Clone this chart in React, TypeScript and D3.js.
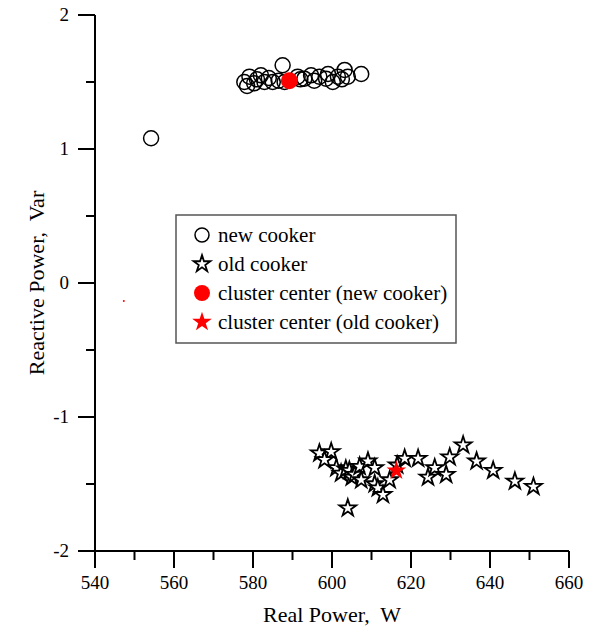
import * as d3 from "d3";

// new cooker measurements
const newX = [554.2, 577.8, 578.5, 579.1, 580.3, 581.0, 582.0, 582.9, 584.0, 585.0, 586.5, 587.5, 588.0, 591.3, 592.0, 593.0, 594.7, 595.5, 596.8, 598.5, 599.0, 600.2, 601.5, 602.5, 603.2, 604.0, 607.4];
const newY = [1.08, 1.50, 1.47, 1.54, 1.49, 1.52, 1.55, 1.50, 1.53, 1.50, 1.51, 1.625, 1.50, 1.54, 1.52, 1.525, 1.55, 1.51, 1.54, 1.525, 1.56, 1.50, 1.54, 1.52, 1.59, 1.54, 1.56];

// old cooker measurements
const oldX = [596.8, 599.8, 598.1, 601.1, 602.3, 603.5, 604.4, 605.0, 605.7, 607.0, 609.1, 610.8, 607.4, 610.8, 611.6, 612.9, 614.6, 616.5, 618.4, 621.8, 604.0, 624.3, 626.0, 628.9, 629.8, 633.2, 636.6, 640.8, 646.3, 651.0];
const oldY = [-1.27, -1.26, -1.32, -1.38, -1.42, -1.39, -1.40, -1.45, -1.43, -1.37, -1.33, -1.38, -1.47, -1.50, -1.53, -1.58, -1.47, -1.36, -1.31, -1.31, -1.68, -1.45, -1.38, -1.43, -1.30, -1.21, -1.33, -1.40, -1.48, -1.52];

const centerNew = [589.2, 1.51];
const centerOld = [616.3, -1.40];
const stray = [547.3, -0.135];

const xMajor = [540, 560, 580, 600, 620, 640, 660];
const xMinor = [550, 570, 590, 610, 630, 650];
const yMajor = [2, 1, 0, -1, -2];
const yMinor = [1.5, 0.5, -0.5, -1.5];

const legendItems = ["new cooker", "old cooker", "cluster center (new cooker)", "cluster center (old cooker)"];

const FONT = "'Liberation Serif', 'Times New Roman', serif";

export default function App() {
  const width = 615;
  const height = 633;
  const x = d3.scaleLinear().domain([540, 660]).range([95, 569]);
  const y = d3.scaleLinear().domain([-2, 2]).range([551, 15]);

  const star = d3.symbol().type(d3.symbolStar).size(88)();
  const starRed = d3.symbol().type(d3.symbolStar).size(120)();

  const x0 = x(540);
  const y0 = y(-2);

  return (
    <svg
      width={width}
      height={height}
      style={{ position: "absolute", left: 0, top: 0, background: "#fff" }}
      fontFamily={FONT}
    >
      {/* axes */}
      <line x1={x0} x2={x(660)} y1={y0} y2={y0} stroke="#000" strokeWidth={2} />
      <line x1={x0} x2={x0} y1={y(2)} y2={y0} stroke="#000" strokeWidth={2} />
      {xMajor.map((v) => (
        <g key={"xm" + v}>
          <line x1={x(v)} x2={x(v)} y1={y0} y2={y0 + 17} stroke="#000" strokeWidth={2} />
          <text x={x(v)} y={y0 + 38} fontSize={19} textAnchor="middle">{v}</text>
        </g>
      ))}
      {xMinor.map((v) => (
        <line key={"xn" + v} x1={x(v)} x2={x(v)} y1={y0} y2={y0 + 9} stroke="#000" strokeWidth={2} />
      ))}
      {yMajor.map((v) => (
        <g key={"ym" + v}>
          <line x1={x0} x2={x0 - 17} y1={y(v)} y2={y(v)} stroke="#000" strokeWidth={2} />
          <text x={x0 - 26} y={y(v) + 6} fontSize={19} textAnchor="end">{v}</text>
        </g>
      ))}
      {yMinor.map((v) => (
        <line key={"yn" + v} x1={x0} x2={x0 - 9} y1={y(v)} y2={y(v)} stroke="#000" strokeWidth={2} />
      ))}
      <text x={332} y={622} fontSize={22} textAnchor="middle" style={{ whiteSpace: "pre" }}>
        {"Real Power,  W"}
      </text>
      <text
        transform={`translate(44,${y(0)}) rotate(-90)`}
        fontSize={22}
        textAnchor="middle"
        style={{ whiteSpace: "pre" }}
      >
        {"Reactive Power,  Var"}
      </text>

      {/* data */}
      {newX.map((v, i) => (
        <circle key={"n" + i} cx={x(v)} cy={y(newY[i])} r={7.5} fill="none" stroke="#000" strokeWidth={1.5} />
      ))}
      {oldX.map((v, i) => (
        <path key={"o" + i} d={star} transform={`translate(${x(v)},${y(oldY[i])})`} fill="#fff" stroke="#000" strokeWidth={1.8} />
      ))}
      <circle cx={x(centerNew[0])} cy={y(centerNew[1])} r={8.5} fill="#ff0000" />
      <path d={starRed} transform={`translate(${x(centerOld[0])},${y(centerOld[1])})`} fill="#ff0000" />
      <circle cx={x(stray[0])} cy={y(stray[1])} r={1} fill="#ff0000" />

      {/* legend */}
      <rect x={176} y={215} width={280} height={128} fill="#fff" stroke="#555" strokeWidth={1.5} />
      {legendItems.map((label, i) => {
        const cy = 235 + i * 29;
        return (
          <g key={label}>
            {i === 0 && <circle cx={202} cy={cy} r={7} fill="none" stroke="#000" strokeWidth={1.5} />}
            {i === 1 && <path d={star} transform={`translate(202,${cy})`} fill="#fff" stroke="#000" strokeWidth={1.8} />}
            {i === 2 && <circle cx={202} cy={cy} r={8} fill="#ff0000" />}
            {i === 3 && <path d={starRed} transform={`translate(202,${cy})`} fill="#ff0000" />}
            <text x={218} y={cy + 7} fontSize={21}>{label}</text>
          </g>
        );
      })}
    </svg>
  );
}
